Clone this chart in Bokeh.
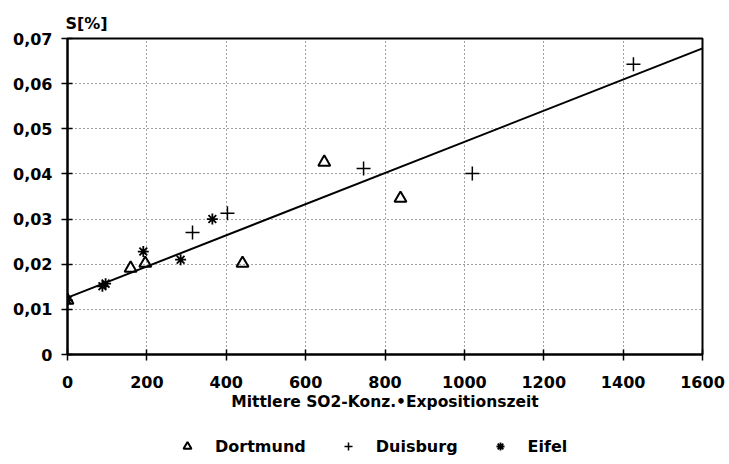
from bokeh.plotting import figure
from bokeh.layouts import column
from bokeh.models import (Range1d, FixedTicker, CustomJSTickFormatter, Legend,
                          LegendItem)
from bokeh.embed import file_html
from bokeh.resources import INLINE

# ---- data ----
dortmund_x = [0, 159, 196, 441, 647, 839]
dortmund_y = [0.012, 0.0191, 0.0202, 0.0202, 0.0426, 0.0346]
duisburg_x = [315, 403, 746, 1020, 1426]
duisburg_y = [0.027, 0.0313, 0.0412, 0.0401, 0.0643]
eifel_x = [0, 88, 96, 191, 285, 365]
eifel_y = [0.012, 0.0151, 0.0157, 0.0228, 0.021, 0.030]
fit_x = [0, 1600]
fit_y = [0.0126, 0.0678]

x_ticks = [0, 200, 400, 600, 800, 1000, 1200, 1400, 1600]
y_ticks = [0, 0.01, 0.02, 0.03, 0.04, 0.05, 0.06, 0.07]
y_tick_labels = ["0", "0,01", "0,02", "0,03", "0,04", "0,05", "0,06", "0,07"]
series_names = ["Dortmund", "Duisburg", "Eifel"]
x_title = "Mittlere SO2-Konz.\u2022Expositionszeit"
y_title = "S[%]"

FONT = "DejaVu Sans"

p = figure(width=729, height=420, output_backend="svg", toolbar_location=None,
           x_range=Range1d(0, 1600), y_range=Range1d(0, 0.07),
           min_border_left=67, min_border_right=27, min_border_top=38,
           min_border_bottom=66, background_fill_color="white",
           border_fill_color="white")

# title used as the y-axis caption above the axis
p.title.text = y_title
p.title.align = "left"
p.title.offset = -2
p.title.text_font = FONT
p.title.text_font_size = "16px"
p.title.text_font_style = "bold"
p.title.text_color = "black"
p.title.standoff = 11

# grid
for g in (p.xgrid, p.ygrid):
    g.grid_line_color = "#444444"
    g.grid_line_dash = "1 3"
    g.grid_line_width = 1

p.xgrid.ticker = FixedTicker(ticks=x_ticks)
p.ygrid.ticker = FixedTicker(ticks=y_ticks)

# axes
p.xaxis.ticker = FixedTicker(ticks=x_ticks)
p.yaxis.ticker = FixedTicker(ticks=y_ticks)
p.yaxis.formatter = CustomJSTickFormatter(
    args=dict(tvals=y_ticks, tlabels=y_tick_labels),
    code="""
    for (let i = 0; i < tvals.length; i++) {
        if (Math.abs(tvals[i] - tick) < 1e-9) return tlabels[i];
    }
    return String(tick);
    """)
for ax in (p.xaxis, p.yaxis):
    ax.axis_line_width = 2
    ax.axis_line_color = "black"
    ax.major_tick_line_width = 1.5
    ax.major_tick_line_color = "black"
    ax.major_tick_in = 5
    ax.major_tick_out = 6
    ax.minor_tick_line_color = None
    ax.major_label_text_font = FONT
    ax.major_label_text_font_size = "16px"
    ax.major_label_text_font_style = "bold"
    ax.major_label_text_color = "black"
p.yaxis.major_label_standoff = 9
p.xaxis.major_label_standoff = 15

p.xaxis.axis_label = x_title
p.xaxis.axis_label_standoff = 2
p.xaxis.axis_label_text_font = FONT
p.xaxis.axis_label_text_font_size = "15.5px"
p.xaxis.axis_label_text_font_style = "bold"
p.xaxis.axis_label_text_color = "black"

p.outline_line_color = "black"
p.outline_line_width = 2

# data
marker_styles = [
    dict(marker="triangle", size=12, fill_color=None, line_color="black", line_width=2),
    dict(marker="cross", size=14, line_color="black", line_width=1.5),
    dict(marker="asterisk", size=11, line_color="black", line_width=1.8),
]
p.line(fit_x, fit_y, line_color="black", line_width=2)
r_dort = p.scatter(dortmund_x, dortmund_y, **marker_styles[0])
r_duis = p.scatter(duisburg_x, duisburg_y, **marker_styles[1])
r_eif = p.scatter(eifel_x, eifel_y, **marker_styles[2])

# legend strip below the chart (markers shown via off-range proxies)
lg = figure(width=729, height=44, output_backend="svg", toolbar_location=None,
            x_range=Range1d(0, 1), y_range=Range1d(0, 1),
            min_border_left=67, min_border_right=27, min_border_top=0,
            min_border_bottom=0, background_fill_color="white",
            border_fill_color="white", outline_line_color=None)
lg.axis.visible = False
lg.grid.visible = False
rs = [lg.scatter([-5], [-5], **st) for st in marker_styles]
legend = Legend(items=[LegendItem(label=n, renderers=[r])
                       for n, r in zip(series_names, rs)],
                location=(110, 8), orientation="horizontal",
                border_line_color=None, background_fill_alpha=0,
                padding=0, margin=0, spacing=32, label_standoff=18,
                glyph_width=20, glyph_height=20, label_height=20,
                label_text_font=FONT, label_text_font_size="16px",
                label_text_font_style="bold", label_text_color="black")
lg.add_layout(legend, "center")

layout = column(p, lg, spacing=0)
open("out.html", "w").write(file_html(layout, INLINE))
